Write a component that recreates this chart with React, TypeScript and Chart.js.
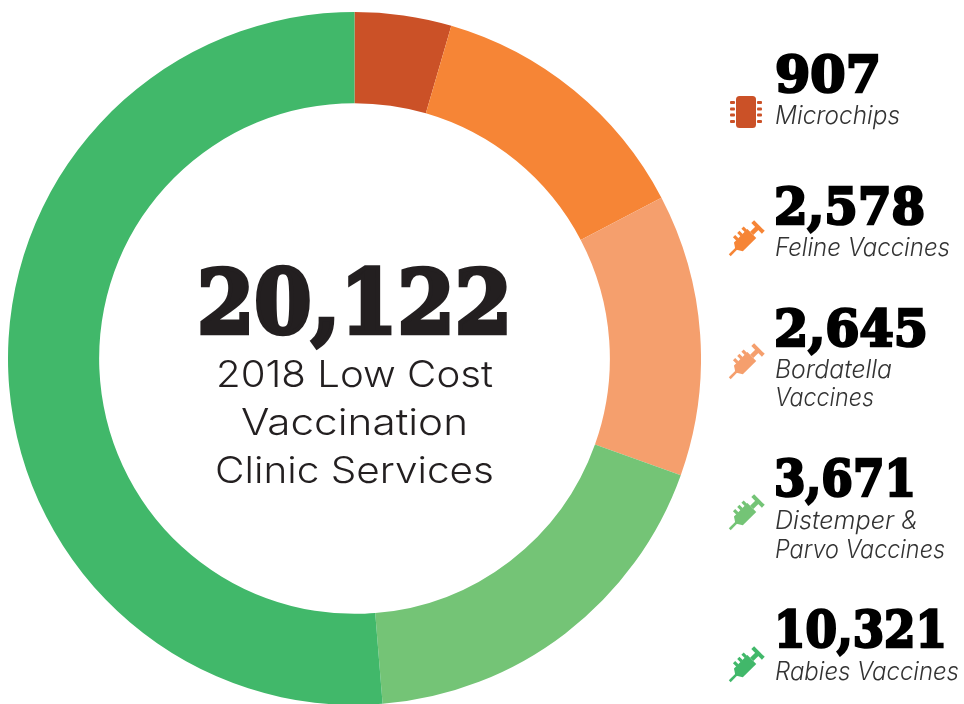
import React, { useEffect, useRef } from "react";
import { Chart, registerables } from "chart.js";

Chart.register(...registerables);

const categories = ["Microchips", "Feline Vaccines", "Bordatella Vaccines", "Distemper & Parvo Vaccines", "Rabies Vaccines"];
const values = [907, 2578, 2645, 3671, 10321];
const colors = ["#CB5127", "#F68536", "#F59F6D", "#74C476", "#41B86A"];
const totalLabel = "20,122";
const centerLines = ["2018 Low Cost", "Vaccination", "Clinic Services"];
const numberLabels = ["907", "2,578", "2,645", "3,671", "10,321"];
const legendLines = [["Microchips"], ["Feline Vaccines"], ["Bordatella", "Vaccines"], ["Distemper &", "Parvo Vaccines"], ["Rabies Vaccines"]];

// layout only
const SLAB = "'DejaVu Serif', serif";
const SANS = "Inter, 'Open Sans', sans-serif";
const centerLayout = [
  { x: 216, w: 277, y: 387 },
  { x: 241, w: 227, y: 435 },
  { x: 215, w: 279, y: 483 },
];
const numberLayout = [
  { x: 775, w: 106, y: 92 },
  { x: 774, w: 151, y: 224 },
  { x: 774, w: 154, y: 346 },
  { x: 774, w: 142, y: 496 },
  { x: 774, w: 173, y: 647 },
];
const legendLayout = [
  [{ x: 775, w: 125, y: 124 }],
  [{ x: 775, w: 175, y: 256 }],
  [{ x: 775, w: 117, y: 378 }, { x: 775, w: 99, y: 406 }],
  [{ x: 775, w: 143, y: 529 }, { x: 775, w: 170, y: 558 }],
  [{ x: 775, w: 184, y: 680 }],
];
const iconCenters = [
  { x: 746, y: 112 },
  { x: 746, y: 239 },
  { x: 746, y: 362 },
  { x: 746, y: 513 },
  { x: 746, y: 665 },
];

function Syringe({ x, y, color }: { x: number; y: number; color: string }) {
  return (
    <g transform={`translate(${x} ${y}) rotate(-45)`} fill={color}>
      <rect x={-23} y={-1.3} width={10} height={2.6} />
      <path d="M-15 0 L-11 -6 L8 -6 L8 6.5 L-11 6.5 Z" />
      <rect x={-8} y={-10.5} width={3.2} height={5} />
      <rect x={-2} y={-10.5} width={3.2} height={5} />
      <rect x={4} y={-10.5} width={3.2} height={5} />
      <rect x={8} y={-2.2} width={9} height={4.6} />
      <rect x={15} y={-7.5} width={4} height={15} />
    </g>
  );
}

function Chip({ x, y, color }: { x: number; y: number; color: string }) {
  const rows = [-9.5, -3, 3, 9.5];
  return (
    <g fill={color}>
      <rect x={x - 10} y={y - 16} width={20} height={32} rx={3.5} />
      {rows.map((r) => (
        <g key={r}>
          <rect x={x - 16} y={y + r - 1.5} width={5} height={3} rx={1} />
          <rect x={x + 11} y={y + r - 1.5} width={5} height={3} rx={1} />
        </g>
      ))}
    </g>
  );
}

export default function App() {
  const ref = useRef<HTMLCanvasElement>(null);
  useEffect(() => {
    const chart = new Chart(ref.current!, {
      type: "doughnut",
      data: {
        labels: categories,
        datasets: [{ data: values, backgroundColor: colors, borderWidth: 0 }],
      },
      options: {
        animation: false,
        responsive: false,
        cutout: "73.7%",
        layout: { padding: 0 },
        plugins: { legend: { display: false }, tooltip: { enabled: false } },
      },
    });
    return () => chart.destroy();
  }, []);

  return (
    <div style={{ position: "absolute", left: 0, top: 0, width: 964, height: 704, overflow: "hidden", background: "#fff" }}>
      <canvas ref={ref} width={693} height={693} style={{ position: "absolute", left: 8, top: 12 }} />
      <svg width={964} height={704} style={{ position: "absolute", left: 0, top: 0 }}>
        <text
          x={197}
          y={333}
          textLength={315}
          lengthAdjust="spacingAndGlyphs"
          fontFamily={SLAB}
          fontWeight={700}
          fontSize={88}
          fill="#231F20"
          stroke="#231F20"
          strokeWidth={4.5}
        >
          {totalLabel}
        </text>
        {centerLines.map((t, i) => (
          <text
            key={t}
            x={centerLayout[i].x}
            y={centerLayout[i].y}
            textLength={centerLayout[i].w}
            lengthAdjust="spacingAndGlyphs"
            fontFamily={SANS}
            fontWeight={300}
            fontSize={37}
            fill="#231F20"
          >
            {t}
          </text>
        ))}
        {numberLabels.map((t, i) => (
          <text
            key={t}
            x={numberLayout[i].x}
            y={numberLayout[i].y}
            textLength={numberLayout[i].w}
            lengthAdjust="spacingAndGlyphs"
            fontFamily={SLAB}
            fontWeight={700}
            fontSize={51}
            fill="#000"
            stroke="#000"
            strokeWidth={2.6}
          >
            {t}
          </text>
        ))}
        {legendLines.map((lines, i) =>
          lines.map((t, j) => (
            <text
              key={t}
              x={legendLayout[i][j].x}
              y={legendLayout[i][j].y}
              textLength={legendLayout[i][j].w}
              lengthAdjust="spacingAndGlyphs"
              fontFamily={SANS}
              fontWeight={300}
              fontStyle="italic"
              fontSize={25}
              fill="#333"
            >
              {t}
            </text>
          ))
        )}
        {iconCenters.map((c, i) =>
          i === 0 ? <Chip key={i} x={c.x} y={c.y} color={colors[i]} /> : <Syringe key={i} x={c.x} y={c.y} color={colors[i]} />
        )}
      </svg>
    </div>
  );
}
